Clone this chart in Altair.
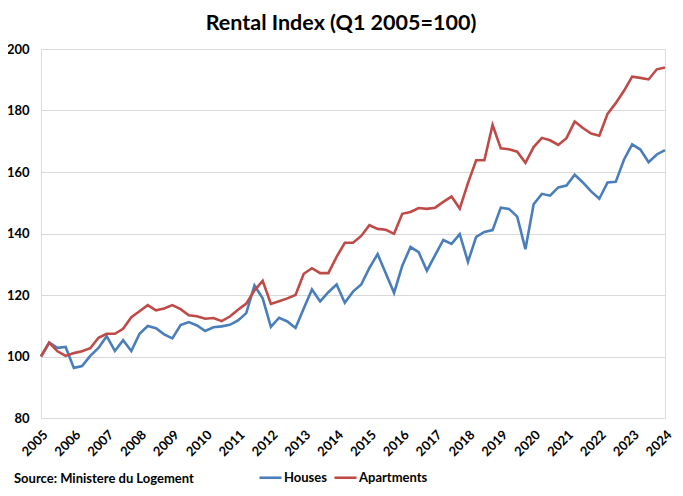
import altair as alt
import pandas as pd

years = [2005, 2006, 2007, 2008, 2009, 2010, 2011, 2012, 2013, 2014,
         2015, 2016, 2017, 2018, 2019, 2020, 2021, 2022, 2023, 2024]

houses = [100.0, 104.5, 102.8, 103.1, 96.3, 96.9, 100.2, 102.8, 106.6, 101.8,
          105.3, 101.8, 107.4, 109.9, 109.2, 107.2, 105.9, 110.2, 111.2, 110.1,
          108.3, 109.5, 109.8, 110.3, 111.7, 114.1, 123.1, 118.9, 109.6, 112.6,
          111.4, 109.3, 115.6, 121.8, 117.9, 120.9, 123.4, 117.5, 121.1, 123.4,
          128.8, 133.3, 127.0, 120.7, 129.5, 135.6, 133.9, 127.9, 133.0, 137.9,
          136.6, 139.8, 130.8, 138.9, 140.5, 141.1, 148.4, 148.0, 145.5, 134.9,
          149.5, 152.9, 152.3, 155.0, 155.6, 159.1, 156.6, 153.7, 151.3, 156.6,
          156.8, 164.0, 169.0, 167.3, 163.2, 165.7, 167.1]

apartments = [100.0, 104.5, 101.7, 100.2, 101.1, 101.7, 102.7, 106.1, 107.4, 107.4,
              109.0, 112.8, 114.7, 116.7, 115.0, 115.6, 116.7, 115.4, 113.4, 113.1,
              112.3, 112.5, 111.5, 113.0, 115.2, 117.2, 121.5, 124.6, 117.1, 118.0,
              118.9, 120.0, 126.9, 128.7, 127.1, 127.1, 132.4, 137.0, 137.0, 139.2,
              142.7, 141.5, 141.2, 139.9, 146.4, 147.0, 148.3, 148.0, 148.4, 150.3,
              152.0, 148.1, 156.4, 163.8, 163.8, 175.3, 167.7, 167.4, 166.6, 163.0,
              168.1, 171.1, 170.3, 168.8, 171.0, 176.4, 174.3, 172.5, 171.8, 178.9,
              182.4, 186.4, 191.0, 190.6, 190.1, 193.4, 194.0]

series_names = ["Houses", "Apartments"]
series_colors = ["#4A7EBB", "#BE4B48"]
y_ticks = [80, 100, 120, 140, 160, 180, 200]
title_text = "Rental Index (Q1 2005=100)"
source_text = "Source: Ministere du Logement"

quarters = [2005 + i / 4 for i in range(len(houses))]
df = pd.concat([
    pd.DataFrame({"t": quarters, "value": houses, "series": series_names[0], "order": range(len(houses))}),
    pd.DataFrame({"t": quarters, "value": apartments, "series": series_names[1], "order": range(len(apartments))}),
])

FONT = "Lato"

lines = alt.Chart(df).mark_line(strokeWidth=2.6).encode(
    x=alt.X("t:Q",
            scale=alt.Scale(domain=[years[0], years[-1]], nice=False, zero=False),
            axis=alt.Axis(values=years, format="d", title=None, grid=False,
                          domain=False, ticks=False, labelAngle=-45,
                          labelAlign="right", labelBaseline="top",
                          labelPadding=10, labelFontSize=13, labelFontWeight="bold",
                          labelFont=FONT, labelColor="#000000", labelOverlap=False)),
    y=alt.Y("value:Q",
            scale=alt.Scale(domain=[y_ticks[0], y_ticks[-1]], nice=False, zero=False),
            axis=alt.Axis(values=y_ticks, title=None, domain=False, ticks=False,
                          gridColor="#D9D9D9", gridWidth=1.2, labelPadding=12,
                          labelFontSize=13, labelFontWeight="bold", labelFont=FONT,
                          labelColor="#000000")),
    color=alt.Color("series:N",
                    scale=alt.Scale(domain=series_names, range=series_colors),
                    legend=alt.Legend(title=None, orient="none", direction="horizontal",
                                      legendX=217, legendY=416, symbolType="stroke",
                                      symbolSize=484, symbolStrokeWidth=2.6,
                                      labelFontSize=13, labelFontWeight="bold",
                                      labelFont=FONT, labelColor="#000000",
                                      columnPadding=2, labelOffset=1)),
    order="order:Q",
)

source = alt.Chart(pd.DataFrame({"s": [source_text]})).mark_text(
    align="left", baseline="middle", fontSize=13, fontWeight="bold", font=FONT,
    color="#000000"
).encode(x=alt.value(-27), y=alt.value(430), text="s:N")

chart = alt.layer(lines, source).properties(
    width=624, height=369,
    title=alt.TitleParams(title_text, fontSize=21.5, fontWeight="bold", font=FONT,
                          anchor="middle", dx=-12, offset=9, color="#000000"),
    autosize=alt.AutoSizeParams(type="none"),
    padding={"left": 33, "top": 41, "right": 10, "bottom": 76},
).configure_view(stroke=None).configure(background="#FFFFFF")

chart.save("out.html", embed_options={"renderer": "svg", "actions": False})
